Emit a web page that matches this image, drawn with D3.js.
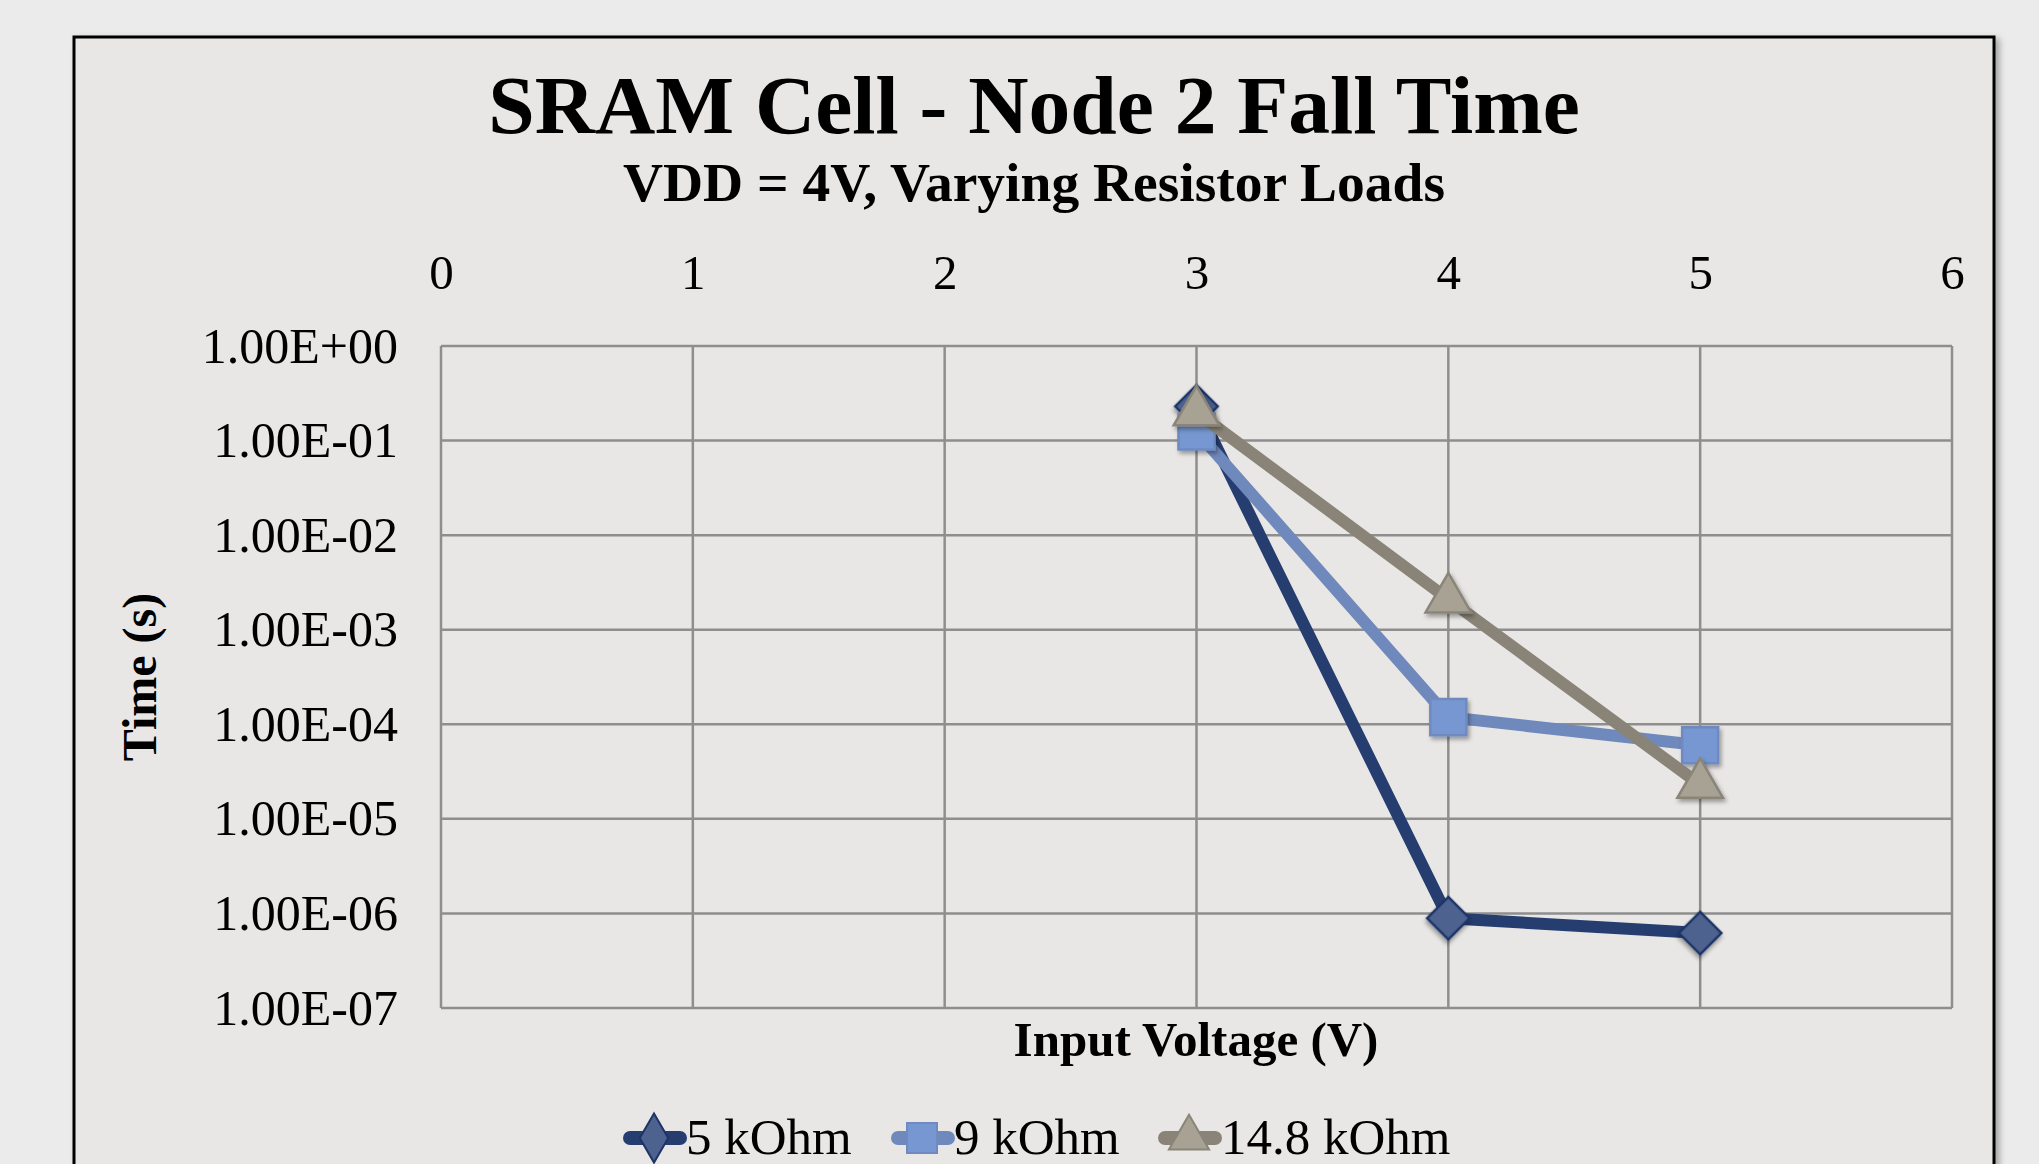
<!DOCTYPE html>
<html>
<head>
<meta charset="utf-8">
<script src="https://cdn.jsdelivr.net/npm/d3@7"></script>
<style>
  html, body { margin: 0; padding: 0; background: #ebebeb; }
  svg { display: block; font-family: "Liberation Serif", "Times New Roman", serif; }
</style>
</head>
<body>
<svg width="2039" height="1164"></svg>
<script>
  // data
  var voltages = [3, 4, 5];
  var seriesNames = ["5 kOhm", "9 kOhm", "14.8 kOhm"];
  var ohm5 = [0.23, 8.9e-7, 6.2e-7];
  var ohm9 = [0.125, 1.19e-4, 6.0e-5];
  var ohm148 = [0.2, 2.1e-3, 2.3e-5];
  var xTicks = [0, 1, 2, 3, 4, 5, 6];
  var yTicks = [1, 1e-1, 1e-2, 1e-3, 1e-4, 1e-5, 1e-6, 1e-7];

  var svg = d3.select("svg");
  var W = 2039, H = 1164;
  var plot = { left: 441, right: 1952, top: 346, bottom: 1008 };

  var series = [
    { name: seriesNames[0], values: ohm5, line: "#263d70", fill: "#4d628f", stroke: "#1f3466", shape: "diamond" },
    { name: seriesNames[1], values: ohm9, line: "#6f89bd", fill: "#7697d1", stroke: "#6f8ac0", shape: "square" },
    { name: seriesNames[2], values: ohm148, line: "#898477", fill: "#a7a293", stroke: "#8a8578", shape: "triangle" }
  ];

  var defs = svg.append("defs");
  var f = defs.append("filter").attr("id", "shadow").attr("x", "-50%").attr("y", "-50%").attr("width", "200%").attr("height", "200%");
  f.append("feDropShadow").attr("dx", 2).attr("dy", 3).attr("stdDeviation", 2).attr("flood-color", "#000").attr("flood-opacity", 0.35);
  var f2 = defs.append("filter").attr("id", "frameShadow").attr("x", "-5%").attr("y", "-5%").attr("width", "110%").attr("height", "110%");
  f2.append("feDropShadow").attr("dx", 4).attr("dy", 3).attr("stdDeviation", 3).attr("flood-color", "#000").attr("flood-opacity", 0.3);

  // page + frame
  svg.append("rect").attr("width", W).attr("height", H).attr("fill", "#ebebeb");
  svg.append("rect")
      .attr("x", 74).attr("y", 37).attr("width", 1920).attr("height", 1200)
      .attr("fill", "#e8e7e5").attr("stroke", "#000").attr("stroke-width", 3)
      .attr("filter", "url(#frameShadow)");

  var x = d3.scaleLinear().domain([0, 6]).range([plot.left, plot.right]);
  var y = d3.scaleLog().domain([1e-7, 1]).range([plot.bottom, plot.top]);

  function sci(v) {
    var e = Math.round(Math.log10(v));
    var a = Math.abs(e);
    return "1.00E" + (e < 0 ? "-" : "+") + (a < 10 ? "0" : "") + a;
  }

  // grid
  var grid = svg.append("g").attr("stroke", "#8e8e8e").attr("stroke-width", 2.5);
  grid.selectAll(".gy").data(yTicks).enter().append("line")
      .attr("x1", plot.left).attr("x2", plot.right)
      .attr("y1", function(d) { return y(d); }).attr("y2", function(d) { return y(d); });
  grid.selectAll(".gx").data(xTicks).enter().append("line")
      .attr("y1", plot.top).attr("y2", plot.bottom)
      .attr("x1", function(d) { return x(d); }).attr("x2", function(d) { return x(d); });

  // axes (labels only)
  var xAxis = svg.append("g")
      .attr("transform", "translate(0," + (plot.top - 54) + ")")
      .call(d3.axisTop(x).tickValues(xTicks).tickSize(0).tickFormat(d3.format("d")));
  xAxis.select(".domain").remove();
  xAxis.selectAll("text").attr("font-size", 49).attr("fill", "#000").attr("font-family", "Liberation Serif");

  var yAxis = svg.append("g")
      .attr("transform", "translate(" + (plot.left - 40) + ",0)")
      .call(d3.axisLeft(y).tickValues(yTicks).tickSize(0).tickFormat(sci));
  yAxis.select(".domain").remove();
  yAxis.selectAll("text").attr("font-size", 50).attr("fill", "#000").attr("font-family", "Liberation Serif");

  // titles
  svg.append("text").attr("x", 1034).attr("y", 133).attr("text-anchor", "middle")
      .attr("font-size", 83.5).attr("font-weight", "bold").text("SRAM Cell - Node 2 Fall Time");
  svg.append("text").attr("x", 1034).attr("y", 201).attr("text-anchor", "middle")
      .attr("font-size", 55.5).attr("font-weight", "bold").text("VDD = 4V, Varying Resistor Loads");
  svg.append("text").attr("x", 1196).attr("y", 1056).attr("text-anchor", "middle")
      .attr("font-size", 49).attr("font-weight", "bold").text("Input Voltage (V)");
  svg.append("text").attr("transform", "translate(156,677) rotate(-90)").attr("text-anchor", "middle")
      .attr("font-size", 48).attr("font-weight", "bold").text("Time (s)");

  function markerPath(shape) {
    if (shape === "diamond") return d3.symbol().type(d3.symbolSquare).size(900)();
    if (shape === "square") return d3.symbol().type(d3.symbolSquare).size(1300)();
    return d3.symbol().type(d3.symbolTriangle).size(900)();
  }
  function markerRot(shape) { return shape === "diamond" ? " rotate(45)" : ""; }

  var line = d3.line()
      .x(function(d, i) { return x(voltages[i]); })
      .y(function(d) { return y(d); });

  series.forEach(function(s) {
    svg.append("path").datum(s.values)
        .attr("d", line).attr("fill", "none")
        .attr("stroke", s.line).attr("stroke-width", 12).attr("stroke-linejoin", "round");
    svg.append("g").selectAll("path").data(s.values).enter().append("path")
        .attr("d", markerPath(s.shape))
        .attr("transform", function(d, i) { return "translate(" + x(voltages[i]) + "," + y(d) + ")" + markerRot(s.shape); })
        .attr("fill", s.fill).attr("stroke", s.stroke).attr("stroke-width", 2.5)
        .attr("filter", "url(#shadow)");
  });

  // legend
  var legendX = [624, 892, 1159];
  var legend = svg.append("g").selectAll("g").data(series).enter().append("g")
      .attr("transform", function(d, i) { return "translate(" + legendX[i] + ",1138)"; });
  legend.append("line").attr("x1", 6).attr("x2", 56).attr("y1", 0).attr("y2", 0)
      .attr("stroke", function(d) { return d.line; }).attr("stroke-width", 14).attr("stroke-linecap", "round");
  legend.append("path")
      .attr("d", function(d) {
        if (d.shape === "diamond") return d3.symbol().type(d3.symbolDiamond).size(700)();
        if (d.shape === "square") return d3.symbol().type(d3.symbolSquare).size(900)();
        return d3.symbol().type(d3.symbolTriangle).size(700)();
      })
      .attr("transform", "translate(30,0)")
      .attr("fill", function(d) { return d.fill; }).attr("stroke", function(d) { return d.stroke; }).attr("stroke-width", 2);
  legend.append("text").attr("x", 62).attr("y", 16)
      .attr("font-size", 51).text(function(d) { return d.name; });
</script>
</body>
</html>
